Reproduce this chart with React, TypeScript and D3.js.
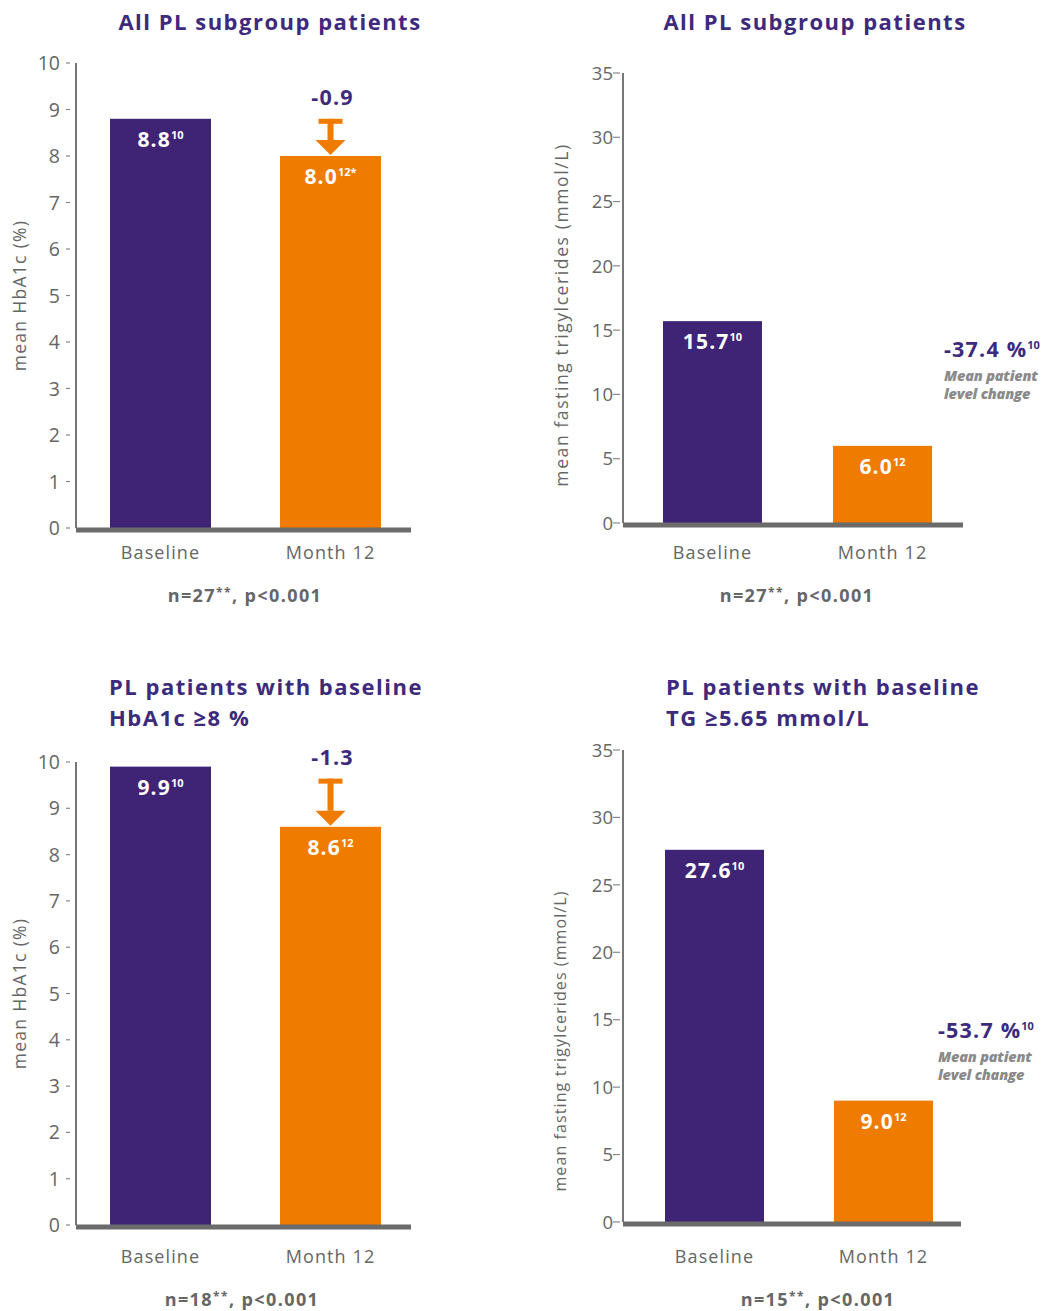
import React from "react";
import * as d3 from "d3";

const categories = ["Baseline", "Month 12"];
const hba1cAll = [8.8, 8.0];
const hba1cAllSup = ["10", "12*"];
const tgAll = [15.7, 6.0];
const tgAllSup = ["10", "12"];
const hba1cHigh = [9.9, 8.6];
const hba1cHighSup = ["10", "12"];
const tgHigh = [27.6, 9.0];
const tgHighSup = ["10", "12"];
const hba1cTicks = [0, 1, 2, 3, 4, 5, 6, 7, 8, 9, 10];
const tgTicks = [0, 5, 10, 15, 20, 25, 30, 35];
const titles = [
  ["All PL subgroup patients"],
  ["All PL subgroup patients"],
  ["PL patients with baseline", "HbA1c \u22658 %"],
  ["PL patients with baseline", "TG \u22655.65 mmol/L"],
];
const footN = ["27", "27", "18", "15"];
const changeLabels = ["-0.9", "-37.4 %", "-1.3", "-53.7 %"];
const yTitles = ["mean HbA1c (%)", "mean fasting trigylcerides (mmol/L)"];

const PURPLE = "#3f2476";
const ORANGE = "#ef7b00";
const TITLE = "#3d2a7c";
const GREY = "#666";
const FONT = "'Open Sans', 'Noto Sans', sans-serif";

type PanelProps = {
  values: number[];
  sups: string[];
  ticks: number[];
  max: number;
  y0: number;
  y1: number;
  axisX: number;
  lineEnd: number;
  barRange: [number, number];
  pad: number;
  kind: "hba1c" | "tg";
  title: string[];
  titleX: number;
  titleAnchor: "middle" | "start";
  titleY: number;
  yTitle: string;
  yTitleX: number;
  yTitleShift: number;
  yTitleSize: number;
  yTitleSpacing: number;
  catY: number;
  footY: number;
  footX: number;
  n: string;
  change: string;
  arrowOffset?: number;
  annX?: number;
  annY?: number;
  tickStyle: "gap" | "tight";
};

function Panel(p: PanelProps) {
  const y = d3.scaleLinear().domain([0, p.max]).range([p.y0, p.y1]);
  const x = d3.scaleBand<string>().domain(categories).range(p.barRange).paddingInner(p.pad);
  const bw = x.bandwidth();
  const colors = [PURPLE, ORANGE];
  return (
    <g fontFamily={FONT}>
      {p.title.map((t, i) => (
        <text key={i} x={p.titleX} y={p.titleY + i * 31} textAnchor={p.titleAnchor} fontSize={22} fontWeight={700} fill={TITLE} letterSpacing={1.5}>
          {t}
        </text>
      ))}
      {/* y axis */}
      <line x1={p.axisX} x2={p.axisX} y1={y(p.max)} y2={y(0)} stroke="#777" strokeWidth={2} />
      {p.ticks.map((t) => (
        <g key={t}>
          {p.tickStyle === "gap" ? (
            <>
              <text x={p.axisX - 16} y={y(t)} dy="0.36em" textAnchor="end" fontSize={19.5} fill={GREY}>{t}</text>
              <line x1={p.axisX - 10} x2={p.axisX - 6} y1={y(t)} y2={y(t)} stroke="#888" strokeWidth={1.2} />
            </>
          ) : (
            <>
              <text x={p.axisX - 10} y={y(t)} dy="0.36em" textAnchor="end" fontSize={18.5} fill={GREY}>{t}</text>
              <line x1={p.axisX - 10} x2={p.axisX - 3} y1={y(t)} y2={y(t)} stroke="#888" strokeWidth={1.2} />
            </>
          )}
        </g>
      ))}
      <text transform={`translate(${p.yTitleX},${(y(0) + y(p.max)) / 2 + p.yTitleShift}) rotate(-90)`} textAnchor="middle" dy="0.35em"
        fontSize={p.yTitleSize} letterSpacing={p.yTitleSpacing} fill={GREY}>
        {p.yTitle}
      </text>
      {/* bars */}
      {categories.map((c, i) => (
        <g key={c}>
          <rect x={x(c)} y={y(p.values[i])} width={bw} height={y(0) - y(p.values[i])} fill={colors[i]} />
          <text x={(x(c) as number) + bw / 2} y={y(p.values[i]) + 28} textAnchor="middle" fontSize={21} fontWeight={700} fill="#fff" letterSpacing={1.2}>
            {p.values[i].toFixed(1)}
            <tspan dy={-8} fontSize={11} letterSpacing={0}>{p.sups[i]}</tspan>
          </text>
          <text x={(x(c) as number) + bw / 2} y={p.catY} textAnchor="middle" fontSize={18} letterSpacing={1.1} fill={GREY}>{c}</text>
        </g>
      ))}
      {/* baseline */}
      <line x1={p.axisX} x2={p.lineEnd} y1={y(0) + 2} y2={y(0) + 2} stroke="#6b6b6b" strokeWidth={5} />
      {/* footer */}
      <text x={p.footX} y={p.footY} textAnchor="middle" fontSize={18} fontWeight={700} fill={GREY} letterSpacing={1.4}>
        {"n=" + p.n}
        <tspan dy={-5} fontSize={12}>**</tspan>
        <tspan dy={5}>, p&lt;0.001</tspan>
      </text>
      {p.kind === "hba1c" ? (() => {
        const cx = (x(categories[1]) as number) + bw / 2;
        const top = y(p.values[0]) + (p.arrowOffset || 0);
        const tip = y(p.values[1]);
        const headH = 16;
        return (
          <g>
            <text x={cx + 2} y={top - 14} textAnchor="middle" fontSize={21.5} fontWeight={700} fill={TITLE} letterSpacing={1.2}>{p.change}</text>
            <rect x={cx - 12} y={top} width={24} height={5} fill={ORANGE} />
            <rect x={cx - 3} y={top} width={6} height={tip - headH - top} fill={ORANGE} />
            <path d={`M${cx - 15},${tip - headH} L${cx + 15},${tip - headH} L${cx},${tip - 1} Z`} fill={ORANGE} />
          </g>
        );
      })() : (
        <g>
          <text x={p.annX} y={p.annY} fontSize={21.5} fontWeight={700} fill={TITLE} letterSpacing={1.2}>
            {p.change}
            <tspan dy={-8} fontSize={11} letterSpacing={0}>10</tspan>
          </text>
          <text x={p.annX} y={(p.annY as number) + 24} fontSize={14.5} fontWeight={800} fontStyle="italic" fill="#8a8a8a" letterSpacing={-0.2}>Mean patient</text>
          <text x={p.annX} y={(p.annY as number) + 42} fontSize={14.5} fontWeight={800} fontStyle="italic" fill="#8a8a8a" letterSpacing={-0.2}>level change</text>
        </g>
      )}
    </g>
  );
}

export default function App() {
  return (
    <svg width={1048} height={1311} style={{ position: "absolute", left: 0, top: 0, background: "#fff" }}>
      <Panel values={hba1cAll} sups={hba1cAllSup} ticks={hba1cTicks} max={10} y0={528} y1={63}
        axisX={76} lineEnd={411} barRange={[110, 381]} pad={0.406} kind="hba1c"
        title={titles[0]} titleX={270} titleAnchor="middle" titleY={30}
        yTitle={yTitles[0]} yTitleX={20} yTitleShift={0} yTitleSize={17.5} yTitleSpacing={1.3}
        catY={559} footY={602} footX={245} n={footN[0]} change={changeLabels[0]}
        arrowOffset={0} tickStyle="gap" />
      <Panel values={tgAll} sups={tgAllSup} ticks={tgTicks} max={35} y0={523} y1={73}
        axisX={623} lineEnd={963} barRange={[663, 932]} pad={0.418} kind="tg"
        title={titles[1]} titleX={815} titleAnchor="middle" titleY={30}
        yTitle={yTitles[1]} yTitleX={562} yTitleShift={17} yTitleSize={17.5} yTitleSpacing={1.6}
        catY={559} footY={602} footX={797} n={footN[1]} change={changeLabels[1]}
        annX={944} annY={357} tickStyle="tight" />
      <Panel values={hba1cHigh} sups={hba1cHighSup} ticks={hba1cTicks} max={10} y0={1225} y1={762}
        axisX={76} lineEnd={411} barRange={[110, 381]} pad={0.406} kind="hba1c"
        title={titles[2]} titleX={109} titleAnchor="start" titleY={695}
        yTitle={yTitles[0]} yTitleX={20} yTitleShift={0} yTitleSize={17.5} yTitleSpacing={1.3}
        catY={1263} footY={1306} footX={242} n={footN[2]} change={changeLabels[2]}
        arrowOffset={12} tickStyle="gap" />
      <Panel values={tgHigh} sups={tgHighSup} ticks={tgTicks} max={35} y0={1222} y1={750}
        axisX={623} lineEnd={961} barRange={[665, 933]} pad={0.414} kind="tg"
        title={titles[3]} titleX={666} titleAnchor="start" titleY={695}
        yTitle={yTitles[1]} yTitleX={560} yTitleShift={55} yTitleSize={16} yTitleSpacing={1.1}
        catY={1263} footY={1306} footX={818} n={footN[3]} change={changeLabels[3]}
        annX={938} annY={1038} tickStyle="tight" />
    </svg>
  );
}
